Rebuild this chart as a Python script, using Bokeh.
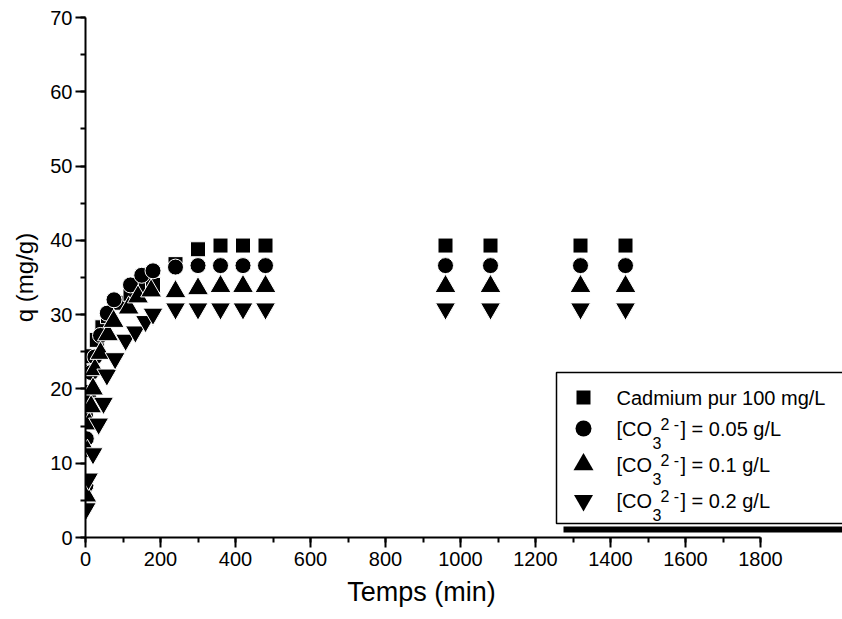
from bokeh.plotting import figure
from bokeh.models import Range1d, BoxAnnotation, Label, SingleIntervalTicker, Title
from bokeh.embed import file_html
from bokeh.resources import INLINE

# ---------------- data ----------------
t_cd = [1, 5, 10, 20, 30, 45, 60, 90, 120, 150, 180, 240, 300, 360, 420, 480, 960, 1080, 1320, 1440]
q_cd = [16.0, 19.6, 22.3, 24.4, 26.6, 28.3, 29.8, 31.6, 32.8, 33.5, 34.0, 36.8, 38.8, 39.3, 39.3, 39.3, 39.3, 39.3, 39.3, 39.3]

t_c005 = [1, 2, 8, 15, 25, 40, 58, 76, 120, 150, 180, 240, 300, 360, 420, 480, 960, 1080, 1320, 1440]
q_c005 = [7.0, 13.3, 19.0, 22.2, 24.3, 27.2, 30.2, 32.0, 34.0, 35.3, 35.9, 36.4, 36.6, 36.6, 36.6, 36.6, 36.6, 36.6, 36.6, 36.6]

t_c01 = [2, 5, 10, 15, 20, 25, 40, 60, 75, 115, 140, 175, 240, 300, 360, 420, 480, 960, 1080, 1320, 1440]
q_c01 = [5.6, 11.6, 15.3, 17.6, 20.0, 22.6, 24.8, 27.3, 29.1, 30.9, 32.4, 33.2, 33.1, 33.5, 33.8, 33.8, 33.8, 33.8, 33.8, 33.8, 33.8]

t_c02 = [2, 8, 20, 35, 48, 57, 79, 107, 133, 160, 180, 240, 300, 360, 420, 480, 960, 1080, 1320, 1440]
q_c02 = [3.9, 7.9, 11.3, 15.3, 18.1, 21.9, 24.1, 26.6, 27.7, 29.1, 30.1, 30.8, 30.8, 30.8, 30.8, 30.8, 30.8, 30.8, 30.8, 30.8]

legend_labels = ["Cadmium pur 100 mg/L", "= 0.05 g/L", "= 0.1 g/L", "= 0.2 g/L"]
x_title = "Temps (min)"
y_title = "q (mg/g)"
x_ticks_interval = 200
y_ticks_interval = 10
x_axis_max = 1800
y_axis_max = 70

# ---------------- layout ----------------
W, H = 842, 619
ML, MT, MB, MR = 85, 17, 82, 0
FW = W - ML - MR
FH = H - MT - MB
X_END = FW * 200.0 / 75.0
Y_END = y_axis_max

FONT = "Liberation Sans"

p = figure(width=W, height=H, x_range=Range1d(0, X_END), y_range=Range1d(0, Y_END),
           output_backend="svg", toolbar_location=None,
           min_border_left=ML, min_border_right=MR, min_border_top=MT, min_border_bottom=MB)
p.outline_line_color = None
p.xgrid.visible = False
p.ygrid.visible = False
p.background_fill_color = "white"
p.border_fill_color = "white"

for ax in (p.xaxis[0], p.yaxis[0]):
    ax.axis_line_color = "black"
    ax.axis_line_width = 2
    ax.major_tick_line_color = "black"
    ax.major_tick_line_width = 2
    ax.minor_tick_line_color = "black"
    ax.minor_tick_line_width = 2
    ax.major_tick_out = 10
    ax.major_tick_in = 0
    ax.minor_tick_out = 5
    ax.minor_tick_in = 0
    ax.major_label_text_font = FONT
    ax.major_label_text_font_size = "20px"
    ax.major_label_text_color = "black"
    ax.axis_label_text_font = FONT
    ax.axis_label_text_font_style = "normal"
    ax.axis_label_text_color = "black"

p.xaxis.ticker = SingleIntervalTicker(interval=x_ticks_interval, num_minor_ticks=2)
p.yaxis.ticker = SingleIntervalTicker(interval=y_ticks_interval, num_minor_ticks=2)
p.xaxis.bounds = (0, x_axis_max)
p.yaxis.bounds = (0, y_axis_max)
p.yaxis.axis_label = y_title
p.yaxis.axis_label_text_font_size = "24px"
p.xaxis.major_label_standoff = 4
p.yaxis.major_label_standoff = 3
p.yaxis.axis_label_standoff = 9

# x-axis title centred on the drawn axis (0..1800), not on the whole frame
XT_SIZE = 27
xt_width = 5.611 * XT_SIZE
p.add_layout(Title(text=x_title, align="left", offset=x_axis_max / 2 / (X_END / FW) - xt_width / 2,
                   text_font=FONT, text_font_size=f"{XT_SIZE}px", text_font_style="normal",
                   text_color="black", standoff=12), "below")

MK = dict(fill_color="black", line_color="white", line_width=1)
p.scatter(t_cd, q_cd, marker="square", size=15, **MK)
p.scatter(t_c005, q_c005, marker="circle", size=16, **MK)
p.scatter(t_c01, q_c01, marker="triangle", size=21, **MK)
p.scatter(t_c02, q_c02, marker="inverted_triangle", size=20, **MK)

# ---------------- legend (drawn by hand, screen px relative to frame) ----------------
p.add_layout(BoxAnnotation(left=478, right=900, bottom=5, top=11,
                           left_units="screen", right_units="screen",
                           bottom_units="screen", top_units="screen",
                           fill_color="black", fill_alpha=1, line_color=None,
                           level="underlay"))
p.add_layout(BoxAnnotation(left=471, right=900, bottom=14, top=165,
                           left_units="screen", right_units="screen",
                           bottom_units="screen", top_units="screen",
                           fill_color="white", fill_alpha=1,
                           line_color="black", line_width=1.5, line_alpha=1,
                           level="underlay"))

rows_sy = [140, 109, 73, 37]
mk_sx = 498
sx2x = X_END / FW
sy2y = Y_END / FH
markers = ["square", "circle", "triangle", "inverted_triangle"]
sizes = [14, 16, 20, 19]
for m, s, sy in zip(markers, sizes, rows_sy):
    p.scatter([mk_sx * sx2x], [sy * sy2y], marker=m, size=s, fill_color="black", line_color=None)

def lab(text, sx, sy, size="20px"):
    p.add_layout(Label(x=sx, y=sy, x_units="screen", y_units="screen", text=text,
                       text_font=FONT, text_font_size=size, text_color="black",
                       text_baseline="middle", text_align="left"))

lab(legend_labels[0], 531, rows_sy[0])
for txt, sy in zip(legend_labels[1:], rows_sy[1:]):
    lab("[CO", 531, sy)
    lab("3", 567, sy - 14, "16px")
    lab("2 -", 575, sy + 4, "16px")
    lab("] " + txt, 595, sy)

open("out.html", "w").write(file_html(p, INLINE))
